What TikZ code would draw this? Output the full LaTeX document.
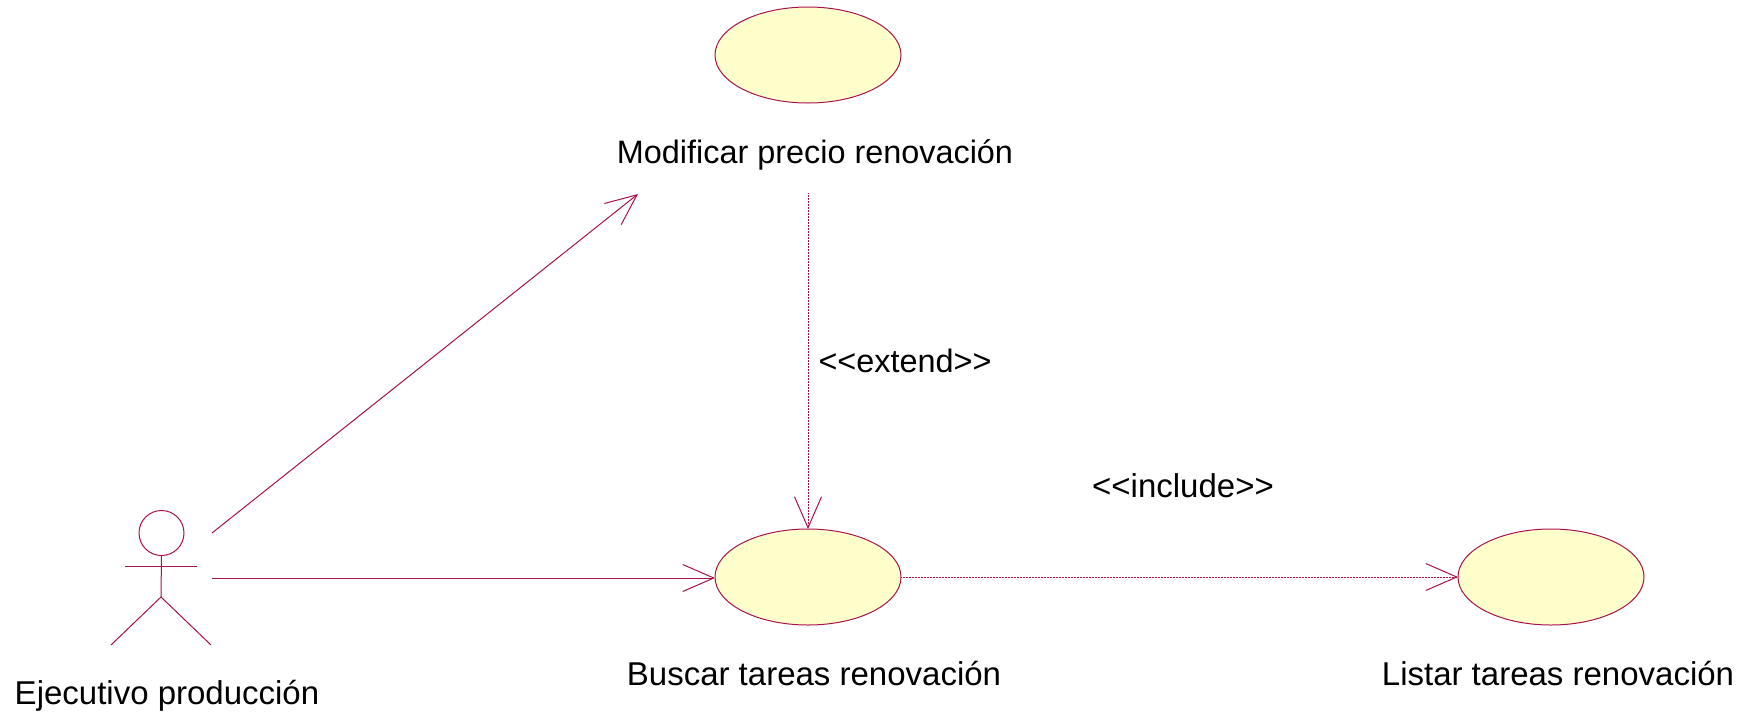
\documentclass[tikz,border=0pt]{standalone}
\usepackage{fontspec}
\setmainfont{Liberation Sans}
\usetikzlibrary{arrows.meta,shapes.geometric}
\definecolor{rose}{HTML}{A8114C}
\definecolor{ucfill}{HTML}{FFFFCC}
\tikzset{
  x=1pt,y=-1pt,
  usecase/.style={ellipse,draw=rose,fill=ucfill,line width=1pt,minimum width=186pt,minimum height=96pt,inner sep=0pt,outer sep=0pt},
  lbl/.style={font=\fontsize{33}{36}\selectfont,text=black,inner sep=0pt,anchor=base},
  lblsmall/.style={lbl,font=\fontsize{32.4}{36}\selectfont},
  limb/.style={draw=rose,line width=1pt},
  assoc/.style={draw=rose,line width=1pt,-{Straight Barb[length=31pt,width=27pt,line width=1pt]}},
  depend/.style={assoc,dash pattern=on 1pt off 0.5pt},
}
\begin{document}
\begin{tikzpicture}
\useasboundingbox[fill=white] (0,0) rectangle (1756,716);
\node[usecase] (top) at (808,55) {};
\node[usecase] (mid) at (808,577) {};
\node[usecase] (right) at (1551,577) {};
\node[lblsmall] (ltop) at (815,163) {Modificar precio renovación};
\node[lbl] (lmid) at (814,685) {Buscar tareas renovación};
\node[lbl] (lright) at (1558,685) {Listar tareas renovación};
\node[lbl] (lactor) at (167,704) {Ejecutivo producción};
\node[lblsmall] (lext) at (905,372) {<{}<extend>{}>};
\node[lbl] (linc) at (1183,497) {<{}<include>{}>};
% actor
\node[circle,draw=rose,line width=1pt,minimum size=45pt,inner sep=0pt,outer sep=0pt] (head) at (161.5,533) {};
\coordinate (hip) at (161,597);
\coordinate (armL) at (125,566);
\coordinate (armR) at (197,566);
\coordinate (legL) at (111,645);
\coordinate (legR) at (211,645);
\draw[limb] (head.south) -- (hip);
\draw[limb] (armL) -- (armR);
\draw[limb] (legL) -- (hip) -- (legR);
% connectors
\coordinate (a1) at (212,533);
\coordinate (a2) at (212,578);
\coordinate (t1) at (638,194);
\coordinate (e1) at (808,193);
\draw[assoc] (a1) -- (t1);
\draw[assoc] (a2) -- (mid.west |- a2);
\draw[depend] (e1) -- (mid.north);
\draw[depend] (mid.east) -- (right.west);
\end{tikzpicture}
\end{document}
